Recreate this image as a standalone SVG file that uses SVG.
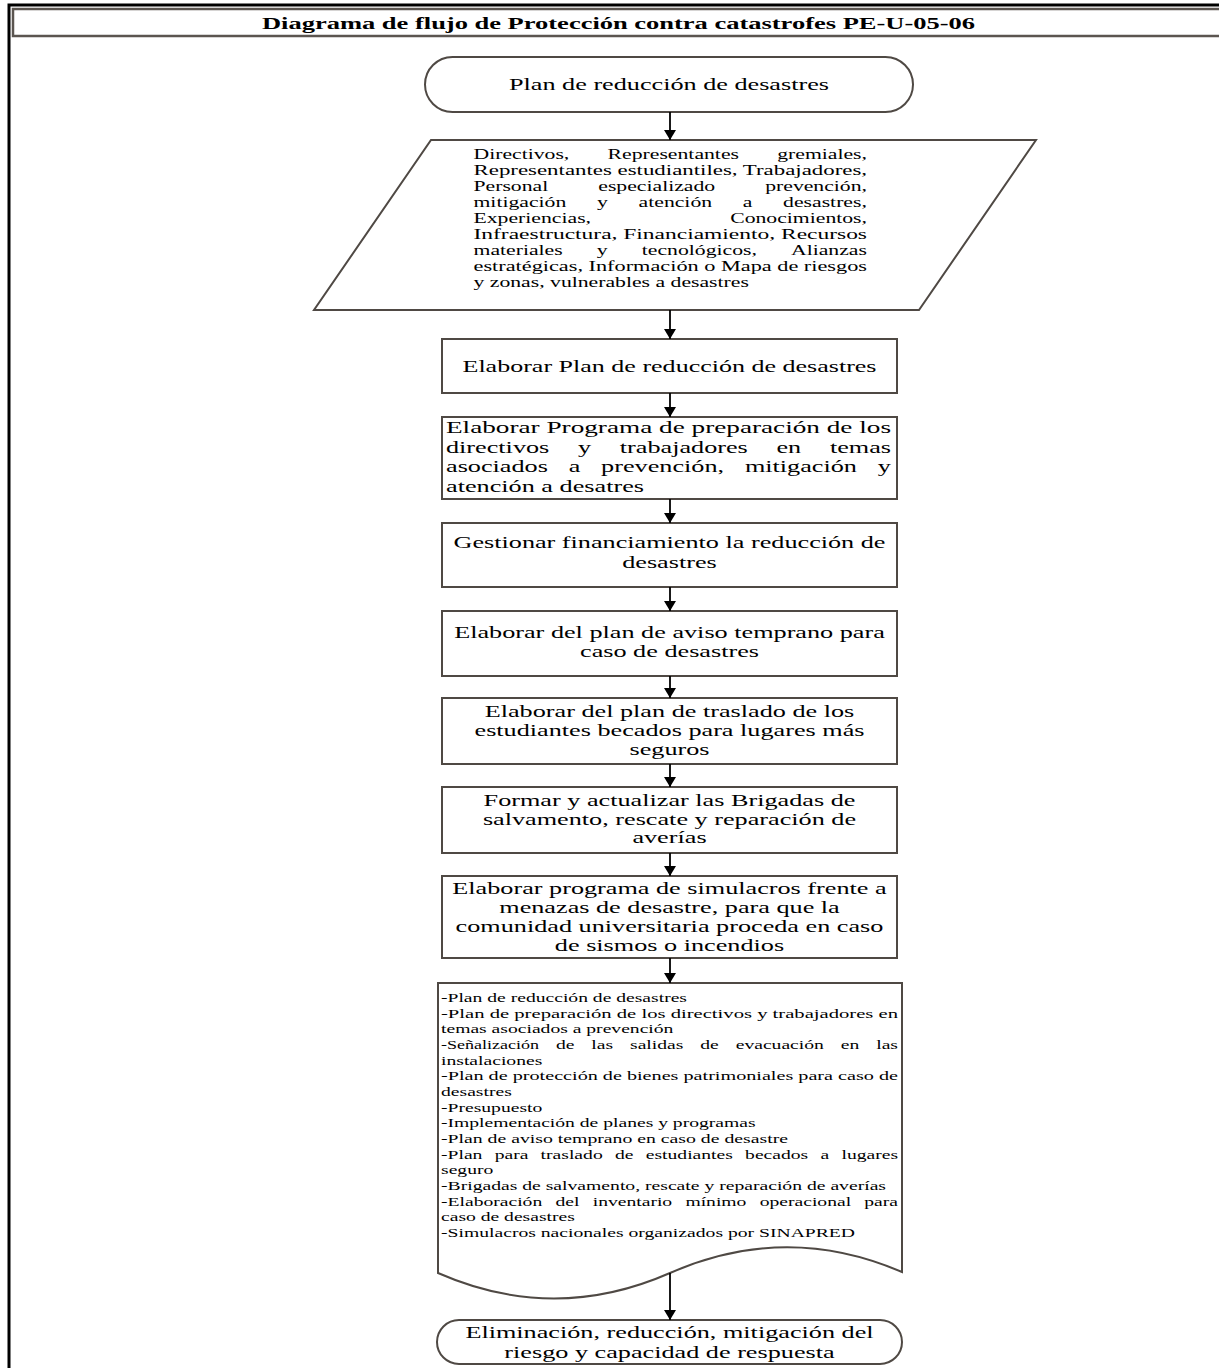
<svg xmlns="http://www.w3.org/2000/svg" width="1219" height="1368" viewBox="0 0 1219 1368">
<style>
.frame{fill:none;stroke:#000;stroke-width:3}
.titlebox{fill:#fff;stroke:#5b5550;stroke-width:2.5}
.shape{fill:#fff;stroke:#4f4944;stroke-width:2}
text{font-family:"Liberation Serif","Times New Roman",serif;fill:#000}
.tt{font-size:17px;font-weight:bold}
.b{font-size:17px}
.c{text-anchor:middle}
.p{font-size:14px}
.d{font-size:13px}
.conn line{stroke:#000;stroke-width:1.8}
</style>
<defs>
<marker id="ah" viewBox="0 0 10 12" refX="10" refY="6" markerWidth="10" markerHeight="12" markerUnits="userSpaceOnUse" orient="auto">
<path d="M0,0 L10,6 L0,12 Z" fill="#000"/>
</marker>
</defs>
<rect x="0" y="0" width="1219" height="1368" fill="#fff"/>
<path class="frame" d="M9,1368 V5 H1219"/>
<g id="title">
<rect class="titlebox" x="13" y="9" width="1215" height="27"/>
<text class="tt" x="262" y="29" textLength="713" lengthAdjust="spacingAndGlyphs">Diagrama de flujo de Protección contra catastrofes PE-U-05-06</text>
</g>
<g id="n_start">
<rect class="shape" x="425" y="57" width="488" height="55" rx="27.5" ry="27.5"/>
<text class="b c" x="669" y="90" textLength="320" lengthAdjust="spacingAndGlyphs">Plan de reducción de desastres</text>
</g>
<g id="n_inputs">
<polygon class="shape" points="431,140 1036,140 919,310 314,310"/>
<g class="p">
<text class="p" x="473.5" y="159" textLength="95.8" lengthAdjust="spacingAndGlyphs">Directivos,</text>
<text class="p" x="607.6" y="159" textLength="131.4" lengthAdjust="spacingAndGlyphs">Representantes</text>
<text class="p" x="777.2" y="159" textLength="89.8" lengthAdjust="spacingAndGlyphs">gremiales,</text>
<text class="p" x="473.5" y="175" textLength="393.5" lengthAdjust="spacingAndGlyphs">Representantes estudiantiles, Trabajadores,</text>
<text class="p" x="473.5" y="191" textLength="74.7" lengthAdjust="spacingAndGlyphs">Personal</text>
<text class="p" x="598.3" y="191" textLength="116.9" lengthAdjust="spacingAndGlyphs">especializado</text>
<text class="p" x="765.2" y="191" textLength="101.8" lengthAdjust="spacingAndGlyphs">prevención,</text>
<text class="p" x="473.5" y="207" textLength="92.8" lengthAdjust="spacingAndGlyphs">mitigación</text>
<text class="p" x="597" y="207" textLength="10.9" lengthAdjust="spacingAndGlyphs">y</text>
<text class="p" x="638.6" y="207" textLength="73.5" lengthAdjust="spacingAndGlyphs">atención</text>
<text class="p" x="742.8" y="207" textLength="9.6" lengthAdjust="spacingAndGlyphs">a</text>
<text class="p" x="783.1" y="207" textLength="83.8" lengthAdjust="spacingAndGlyphs">desastres,</text>
<text class="p" x="473.5" y="223" textLength="117.5" lengthAdjust="spacingAndGlyphs">Experiencias,</text>
<text class="p" x="730.2" y="223" textLength="136.8" lengthAdjust="spacingAndGlyphs">Conocimientos,</text>
<text class="p" x="473.5" y="239" textLength="393.5" lengthAdjust="spacingAndGlyphs">Infraestructura, Financiamiento, Recursos</text>
<text class="p" x="473.5" y="255" textLength="89.2" lengthAdjust="spacingAndGlyphs">materiales</text>
<text class="p" x="596.8" y="255" textLength="10.9" lengthAdjust="spacingAndGlyphs">y</text>
<text class="p" x="641.8" y="255" textLength="115.1" lengthAdjust="spacingAndGlyphs">tecnológicos,</text>
<text class="p" x="791" y="255" textLength="75.9" lengthAdjust="spacingAndGlyphs">Alianzas</text>
<text class="p" x="473.5" y="271" textLength="393.5" lengthAdjust="spacingAndGlyphs">estratégicas, Información o Mapa de riesgos</text>
<text class="p" x="473.5" y="287" textLength="275.4" lengthAdjust="spacingAndGlyphs">y zonas, vulnerables a desastres</text>
</g>
</g>
<g id="n_plan">
<rect class="shape" x="442" y="339" width="455" height="54"/>
<text class="b c" x="669.5" y="372" textLength="414" lengthAdjust="spacingAndGlyphs">Elaborar Plan de reducción de desastres</text>
</g>
<g id="n_programa">
<rect class="shape" x="442" y="417" width="455" height="82"/>
<text class="b" x="446" y="433" textLength="445" lengthAdjust="spacingAndGlyphs">Elaborar Programa de preparación de los</text>
<text class="b" x="446" y="452.5" textLength="103.3" lengthAdjust="spacingAndGlyphs">directivos</text>
<text class="b" x="578" y="452.5" textLength="13.1" lengthAdjust="spacingAndGlyphs">y</text>
<text class="b" x="619.8" y="452.5" textLength="128" lengthAdjust="spacingAndGlyphs">trabajadores</text>
<text class="b" x="776.5" y="452.5" textLength="24.7" lengthAdjust="spacingAndGlyphs">en</text>
<text class="b" x="829.9" y="452.5" textLength="61.1" lengthAdjust="spacingAndGlyphs">temas</text>
<text class="b" x="446" y="472" textLength="101.9" lengthAdjust="spacingAndGlyphs">asociados</text>
<text class="b" x="568.7" y="472" textLength="11.6" lengthAdjust="spacingAndGlyphs">a</text>
<text class="b" x="601.1" y="472" textLength="123" lengthAdjust="spacingAndGlyphs">prevención,</text>
<text class="b" x="744.9" y="472" textLength="112.1" lengthAdjust="spacingAndGlyphs">mitigación</text>
<text class="b" x="877.8" y="472" textLength="13.1" lengthAdjust="spacingAndGlyphs">y</text>
<text class="b" x="446" y="491.5" textLength="198" lengthAdjust="spacingAndGlyphs">atención a desatres</text>
</g>
<g id="n_financiamiento">
<rect class="shape" x="442" y="523" width="455" height="64"/>
<text class="b c" x="669.5" y="548" textLength="432" lengthAdjust="spacingAndGlyphs">Gestionar financiamiento la reducción de</text>
<text class="b c" x="669.5" y="567.5" textLength="94.6" lengthAdjust="spacingAndGlyphs">desastres</text>
</g>
<g id="n_aviso">
<rect class="shape" x="442" y="611" width="455" height="65"/>
<text class="b c" x="669.5" y="638" textLength="430.7" lengthAdjust="spacingAndGlyphs">Elaborar del plan de aviso temprano para</text>
<text class="b c" x="669.5" y="656.5" textLength="179" lengthAdjust="spacingAndGlyphs">caso de desastres</text>
</g>
<g id="n_traslado">
<rect class="shape" x="442" y="698" width="455" height="66"/>
<text class="b c" x="669.5" y="717" textLength="369.6" lengthAdjust="spacingAndGlyphs">Elaborar del plan de traslado de los</text>
<text class="b c" x="669.5" y="736" textLength="390" lengthAdjust="spacingAndGlyphs">estudiantes becados para lugares más</text>
<text class="b c" x="669.5" y="754.5" textLength="80" lengthAdjust="spacingAndGlyphs">seguros</text>
</g>
<g id="n_brigadas">
<rect class="shape" x="442" y="787" width="455" height="66"/>
<text class="b c" x="669.5" y="806" textLength="371.8" lengthAdjust="spacingAndGlyphs">Formar y actualizar las Brigadas de</text>
<text class="b c" x="669.5" y="824.5" textLength="373.2" lengthAdjust="spacingAndGlyphs">salvamento, rescate y reparación de</text>
<text class="b c" x="669.5" y="843" textLength="74.2" lengthAdjust="spacingAndGlyphs">averías</text>
</g>
<g id="n_simulacros">
<rect class="shape" x="442" y="876" width="455" height="82"/>
<text class="b c" x="669.5" y="894" textLength="434.3" lengthAdjust="spacingAndGlyphs">Elaborar programa de simulacros frente a</text>
<text class="b c" x="669.5" y="913" textLength="340.5" lengthAdjust="spacingAndGlyphs">menazas de desastre, para que la</text>
<text class="b c" x="669.5" y="932" textLength="427.8" lengthAdjust="spacingAndGlyphs">comunidad universitaria proceda en caso</text>
<text class="b c" x="669.5" y="950.5" textLength="229.3" lengthAdjust="spacingAndGlyphs">de sismos o incendios</text>
</g>
<g id="n_documento">
<path class="shape" d="M438,983 H902 V1272 Q786,1222 670,1273 Q554,1324 438,1273 Z"/>
<text class="d" x="441" y="1002" textLength="246" lengthAdjust="spacingAndGlyphs">-Plan de reducción de desastres</text>
<text class="d" x="441" y="1017.7" textLength="457" lengthAdjust="spacingAndGlyphs">-Plan de preparación de los directivos y trabajadores en</text>
<text class="d" x="441" y="1033.3" textLength="232.4" lengthAdjust="spacingAndGlyphs">temas asociados a prevención</text>
<text class="d" x="441" y="1049" textLength="98" lengthAdjust="spacingAndGlyphs">-Señalización</text>
<text class="d" x="555.9" y="1049" textLength="18.5" lengthAdjust="spacingAndGlyphs">de</text>
<text class="d" x="591.3" y="1049" textLength="21.8" lengthAdjust="spacingAndGlyphs">las</text>
<text class="d" x="630" y="1049" textLength="53.4" lengthAdjust="spacingAndGlyphs">salidas</text>
<text class="d" x="700.3" y="1049" textLength="18.5" lengthAdjust="spacingAndGlyphs">de</text>
<text class="d" x="735.7" y="1049" textLength="88.2" lengthAdjust="spacingAndGlyphs">evacuación</text>
<text class="d" x="840.8" y="1049" textLength="18.5" lengthAdjust="spacingAndGlyphs">en</text>
<text class="d" x="876.2" y="1049" textLength="21.8" lengthAdjust="spacingAndGlyphs">las</text>
<text class="d" x="441" y="1064.7" textLength="101.3" lengthAdjust="spacingAndGlyphs">instalaciones</text>
<text class="d" x="441" y="1080.3" textLength="457" lengthAdjust="spacingAndGlyphs">-Plan de protección de bienes patrimoniales para caso de</text>
<text class="d" x="441" y="1096" textLength="70.8" lengthAdjust="spacingAndGlyphs">desastres</text>
<text class="d" x="441" y="1111.7" textLength="101.3" lengthAdjust="spacingAndGlyphs">-Presupuesto</text>
<text class="d" x="441" y="1127.3" textLength="314.6" lengthAdjust="spacingAndGlyphs">-Implementación de planes y programas</text>
<text class="d" x="441" y="1143" textLength="347" lengthAdjust="spacingAndGlyphs">-Plan de aviso temprano en caso de desastre</text>
<text class="d" x="441" y="1158.7" textLength="41.4" lengthAdjust="spacingAndGlyphs">-Plan</text>
<text class="d" x="494.7" y="1158.7" textLength="33.7" lengthAdjust="spacingAndGlyphs">para</text>
<text class="d" x="540.6" y="1158.7" textLength="62.1" lengthAdjust="spacingAndGlyphs">traslado</text>
<text class="d" x="615" y="1158.7" textLength="18.5" lengthAdjust="spacingAndGlyphs">de</text>
<text class="d" x="645.8" y="1158.7" textLength="87.1" lengthAdjust="spacingAndGlyphs">estudiantes</text>
<text class="d" x="745.1" y="1158.7" textLength="63.1" lengthAdjust="spacingAndGlyphs">becados</text>
<text class="d" x="820.5" y="1158.7" textLength="8.7" lengthAdjust="spacingAndGlyphs">a</text>
<text class="d" x="841.5" y="1158.7" textLength="56.6" lengthAdjust="spacingAndGlyphs">lugares</text>
<text class="d" x="441" y="1174.3" textLength="52.3" lengthAdjust="spacingAndGlyphs">seguro</text>
<text class="d" x="441" y="1190" textLength="445" lengthAdjust="spacingAndGlyphs">-Brigadas de salvamento, rescate y reparación de averías</text>
<text class="d" x="441" y="1205.7" textLength="101.2" lengthAdjust="spacingAndGlyphs">-Elaboración</text>
<text class="d" x="555.4" y="1205.7" textLength="24" lengthAdjust="spacingAndGlyphs">del</text>
<text class="d" x="592.7" y="1205.7" textLength="79.5" lengthAdjust="spacingAndGlyphs">inventario</text>
<text class="d" x="685.4" y="1205.7" textLength="61" lengthAdjust="spacingAndGlyphs">mínimo</text>
<text class="d" x="759.7" y="1205.7" textLength="91.4" lengthAdjust="spacingAndGlyphs">operacional</text>
<text class="d" x="864.3" y="1205.7" textLength="33.7" lengthAdjust="spacingAndGlyphs">para</text>
<text class="d" x="441" y="1221.3" textLength="133.9" lengthAdjust="spacingAndGlyphs">caso de desastres</text>
<text class="d" x="441" y="1237" textLength="414" lengthAdjust="spacingAndGlyphs">-Simulacros nacionales organizados por SINAPRED</text>
</g>
<g id="n_end">
<rect class="shape" x="437" y="1320" width="465" height="44" rx="22" ry="22"/>
<text class="b c" x="669.5" y="1338" textLength="408.2" lengthAdjust="spacingAndGlyphs">Eliminación, reducción, mitigación del</text>
<text class="b c" x="669.5" y="1358" textLength="330.3" lengthAdjust="spacingAndGlyphs">riesgo y capacidad de respuesta</text>
</g>
<g id="connectors" class="conn">
<line x1="670" y1="112" x2="670" y2="140" marker-end="url(#ah)"/>
<line x1="670" y1="310" x2="670" y2="339" marker-end="url(#ah)"/>
<line x1="670" y1="393" x2="670" y2="417" marker-end="url(#ah)"/>
<line x1="670" y1="499" x2="670" y2="523" marker-end="url(#ah)"/>
<line x1="670" y1="587" x2="670" y2="611" marker-end="url(#ah)"/>
<line x1="670" y1="676" x2="670" y2="698" marker-end="url(#ah)"/>
<line x1="670" y1="764" x2="670" y2="787" marker-end="url(#ah)"/>
<line x1="670" y1="853" x2="670" y2="876" marker-end="url(#ah)"/>
<line x1="670" y1="958" x2="670" y2="983" marker-end="url(#ah)"/>
<line x1="670" y1="1273" x2="670" y2="1320" marker-end="url(#ah)"/>
</g>
</svg>
